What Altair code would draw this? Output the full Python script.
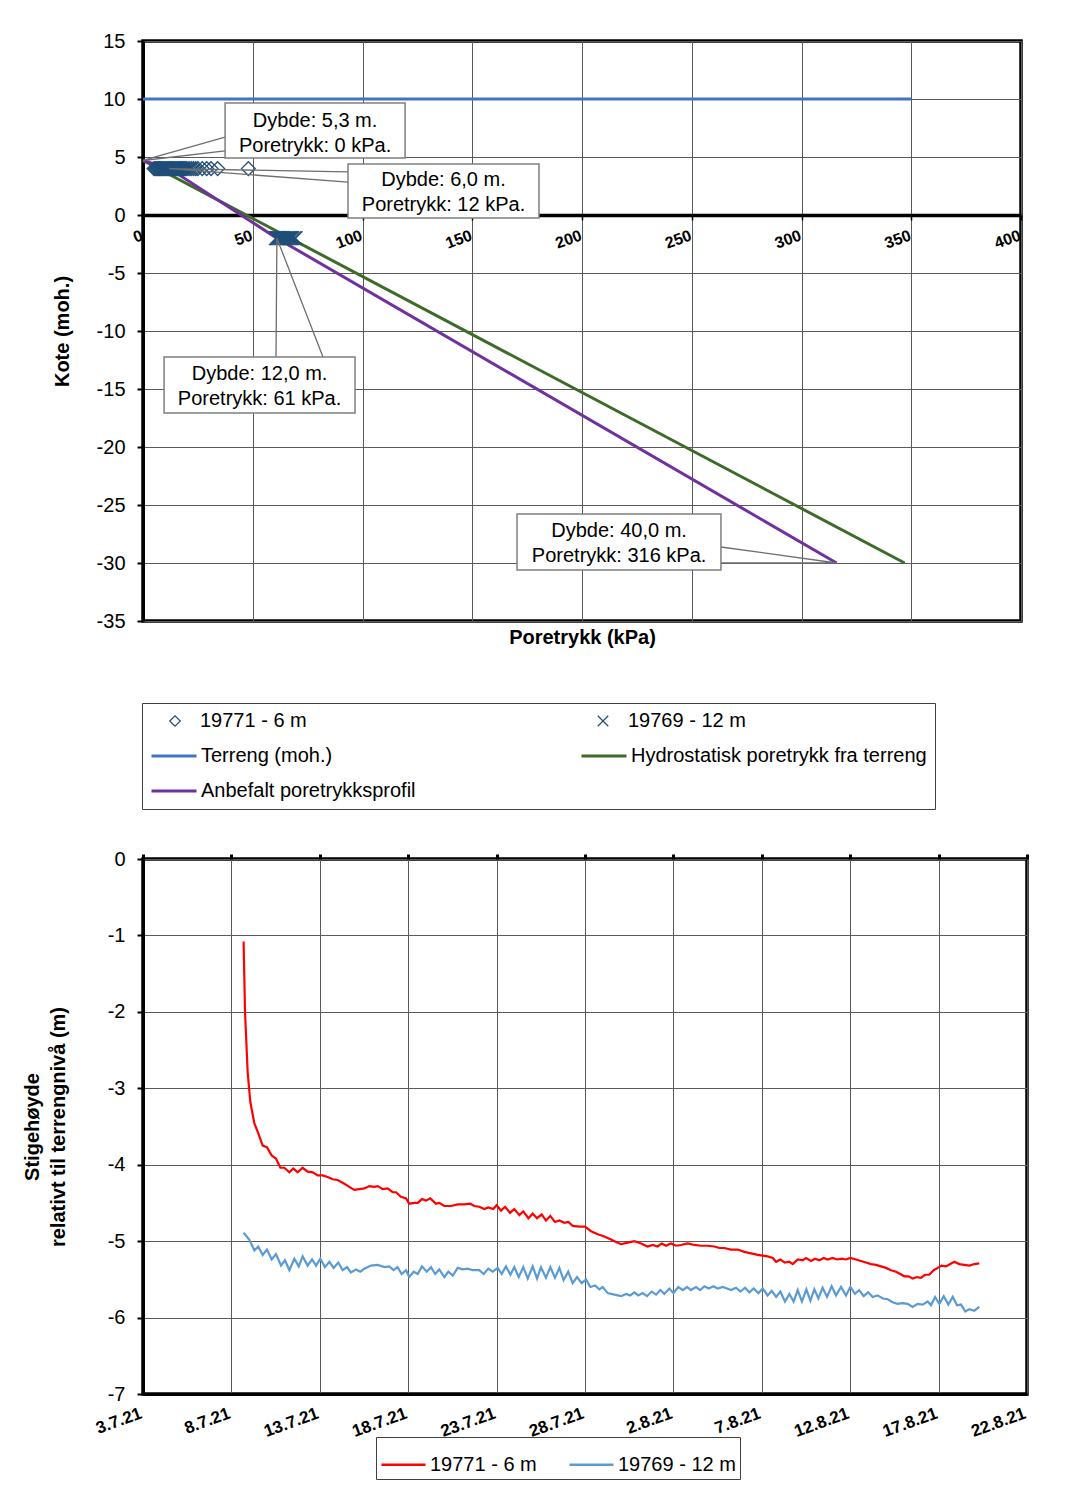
import altair as alt
import pandas as pd

FONT = "Liberation Sans"
GRID = "#5a5a5a"

# ---------------- top chart data ----------------
marker_series = ["19771 - 6 m", "19769 - 12 m"]
marker_shapes = ["diamond", "M-1,-1L1,1M-1,1L1,-1"]
marker_color = "#1F4E79"
# legend grid is filled column by column: column 1 = Terreng, Anbefalt; column 2 = Hydrostatisk
line_series = ["Terreng (moh.)", "Anbefalt poretrykksprofil", "Hydrostatisk poretrykk fra terreng"]
line_colors = ["#4472C4", "#7030A0", "#3D6B2A"]

terrain_kpa = [0, 350]
terrain_kote = [10, 10]
hydro_kpa = [0, 347]
hydro_kote = [4.7, -30]
anbef_kpa = [0, 12, 61, 316]
anbef_kote = [4.7, 4.0, -2.0, -30.0]

p6_kote = 4.0
p6_kpa = [48, 34, 31, 29, 27, 25, 24, 23, 22, 21, 20, 19.5, 19, 18.5, 18, 17.5, 17,
          16.5, 16, 15.5, 15, 14.5, 14, 13.5, 13, 12.5, 12, 11.5, 11, 10.5, 10, 9.5,
          9, 8.5, 8, 7.5, 7, 6.5, 6, 5.5, 5]
p12_kote = -2.0
p12_kpa = [60.5, 61, 61.5, 62, 62.5, 63, 63.5, 64, 64.5, 65, 65.5, 66, 66.5, 67,
           67.5, 68, 69, 69.5]

# annotation boxes (data units); text anchored at its first line
ann_text = ["Dybde: 5,3 m.\nPoretrykk: 0 kPa.",
            "Dybde: 6,0 m.\nPoretrykk: 12 kPa.",
            "Dybde: 12,0 m.\nPoretrykk: 61 kPa.",
            "Dybde: 40,0 m.\nPoretrykk: 316 kPa."]
ann_x1 = [37.4, 93.4, 9.6, 170.4]
ann_x2 = [119.4, 180.4, 96.6, 263.3]
ann_y1 = [9.66, 4.40, -12.24, -25.78]
ann_y2 = [4.91, -0.26, -17.07, -30.60]
ann_cx = [78.4, 136.9, 53.1, 216.9]
ann_cy = [8.10, 3.02, -13.71, -27.24]

# leader wedges: box edge -> target -> box edge
ldr_kpa = [[37.4, 0, 37.4], [93.4, 12, 93.4], [60.6, 61, 82.0], [263.3, 316, 263.3]]
ldr_kote = [[6.72, 4.7, 5.52], [3.71, 4.0, 2.84], [-12.24, -2.0, -12.24], [-28.62, -30.0, -30.0]]

# ---------------- bottom chart data ----------------
red_days = [5.69, 5.77, 5.92, 6.07, 6.30, 6.49, 6.77, 7.01, 7.28, 7.52, 7.77, 7.99, 8.28, 8.50,
            8.75, 9.03, 9.31, 9.60, 9.88, 10.16, 10.44, 10.73, 11.01, 11.39, 11.67, 11.95,
            12.24, 12.52, 12.80, 13.08, 13.27, 13.56, 13.84, 14.12, 14.31, 14.59, 14.88,
            15.06, 15.35, 15.54, 15.78, 16.01, 16.25, 16.57, 16.76, 17.04, 17.42, 17.80,
            18.17, 18.51, 18.74, 19.02, 19.31, 19.53, 19.81, 20.00, 20.25, 20.48, 20.76,
            21.00, 21.29, 21.51, 21.80, 22.04, 22.29, 22.55, 22.79, 23.04, 23.30, 23.55,
            23.83, 24.06, 24.30, 24.68, 25.00, 25.34, 25.72, 26.09, 26.47, 26.75, 27.04,
            27.41, 27.79, 28.17, 28.54, 28.83, 29.11, 29.34, 29.58, 29.86, 30.15, 30.43,
            30.81, 31.18, 31.56, 31.94, 32.32, 32.60, 32.88, 33.26, 33.64, 34.01, 34.39,
            34.77, 35.05, 35.33, 35.62, 35.81, 36.05, 36.31, 36.56, 36.75, 37.03, 37.31,
            37.50, 37.78, 38.01, 38.25, 38.50, 38.72, 39.01, 39.25, 39.52, 39.76, 40.01,
            40.33, 40.61, 40.89, 41.18, 41.46, 41.74, 42.02, 42.31, 42.59, 42.83, 43.06,
            43.31, 43.53, 43.78, 44.00, 44.23, 44.47, 44.72, 44.95, 45.17, 45.42, 45.66,
            45.89, 46.17, 46.45, 46.74, 47.02, 47.30]
red_vals = [-1.08, -2.00, -2.79, -3.18, -3.46, -3.57, -3.75, -3.77, -3.88, -3.92, -4.04, -4.04,
            -4.10, -4.05, -4.10, -4.04, -4.09, -4.10, -4.14, -4.14, -4.16, -4.19, -4.20, -4.25,
            -4.29, -4.33, -4.32, -4.31, -4.28, -4.29, -4.28, -4.32, -4.31, -4.36, -4.36, -4.42,
            -4.44, -4.51, -4.50, -4.50, -4.45, -4.47, -4.44, -4.51, -4.50, -4.54, -4.54, -4.52,
            -4.52, -4.51, -4.54, -4.55, -4.58, -4.56, -4.58, -4.53, -4.60, -4.55, -4.63, -4.58,
            -4.66, -4.61, -4.70, -4.64, -4.70, -4.65, -4.73, -4.67, -4.75, -4.73, -4.76, -4.75,
            -4.80, -4.81, -4.81, -4.87, -4.91, -4.94, -4.98, -5.01, -5.04, -5.02, -5.00, -5.03,
            -5.07, -5.05, -5.07, -5.03, -5.06, -5.03, -5.06, -5.05, -5.03, -5.05, -5.06, -5.06,
            -5.07, -5.09, -5.09, -5.11, -5.11, -5.14, -5.16, -5.18, -5.19, -5.20, -5.22, -5.27,
            -5.24, -5.28, -5.27, -5.30, -5.24, -5.25, -5.22, -5.26, -5.23, -5.25, -5.22, -5.24,
            -5.22, -5.24, -5.23, -5.24, -5.22, -5.24, -5.26, -5.28, -5.30, -5.31, -5.33, -5.35,
            -5.38, -5.40, -5.43, -5.46, -5.46, -5.49, -5.47, -5.48, -5.44, -5.44, -5.38, -5.35,
            -5.32, -5.33, -5.30, -5.27, -5.30, -5.31, -5.32, -5.30, -5.29]

blue_days = [5.69, 6.01, 6.30, 6.52, 6.77, 7.01, 7.28, 7.52, 7.81, 8.03, 8.28, 8.56, 8.81, 9.03,
             9.31, 9.56, 9.79, 10.03, 10.29, 10.54, 10.78, 11.05, 11.29, 11.54, 11.76, 12.05,
             12.29, 12.52, 12.90, 13.27, 13.65, 13.93, 14.17, 14.40, 14.63, 14.88, 15.06, 15.31,
             15.54, 15.78, 16.05, 16.29, 16.52, 16.76, 17.04, 17.27, 17.52, 17.80, 18.08, 18.37,
             18.65, 19.02, 19.27, 19.53, 19.78, 20.06, 20.29, 20.53, 20.78, 21.00, 21.25, 21.51,
             21.76, 22.04, 22.29, 22.51, 22.79, 23.04, 23.30, 23.55, 23.79, 24.05, 24.30, 24.55,
             24.81, 25.06, 25.30, 25.57, 25.81, 26.00, 26.28, 26.66, 27.04, 27.32, 27.56, 27.79,
             28.01, 28.26, 28.51, 28.77, 29.02, 29.26, 29.49, 29.77, 30.00, 30.28, 30.53, 30.77,
             30.99, 31.28, 31.52, 31.75, 32.00, 32.26, 32.50, 32.79, 33.03, 33.26, 33.54, 33.79,
             34.05, 34.30, 34.54, 34.81, 35.05, 35.33, 35.56, 35.81, 36.05, 36.31, 36.56, 36.80,
             37.03, 37.27, 37.52, 37.75, 37.97, 38.20, 38.44, 38.69, 38.95, 39.20, 39.48, 39.76,
             40.01, 40.27, 40.51, 40.76, 41.02, 41.27, 41.55, 41.84, 42.12, 42.40, 42.68, 42.97,
             43.25, 43.53, 43.81, 44.10, 44.38, 44.57, 44.80, 45.04, 45.29, 45.55, 45.80, 46.04,
             46.27, 46.51, 46.74, 47.02, 47.30]
blue_vals = [-4.89, -4.98, -5.12, -5.07, -5.18, -5.11, -5.24, -5.17, -5.32, -5.25, -5.38, -5.23,
             -5.33, -5.20, -5.32, -5.24, -5.32, -5.23, -5.34, -5.27, -5.35, -5.28, -5.38, -5.34,
             -5.41, -5.37, -5.40, -5.36, -5.32, -5.31, -5.34, -5.33, -5.38, -5.34, -5.43, -5.38,
             -5.47, -5.40, -5.43, -5.33, -5.40, -5.34, -5.43, -5.37, -5.47, -5.40, -5.45, -5.35,
             -5.37, -5.36, -5.38, -5.38, -5.43, -5.36, -5.40, -5.35, -5.43, -5.33, -5.44, -5.34,
             -5.47, -5.34, -5.49, -5.33, -5.49, -5.34, -5.48, -5.34, -5.48, -5.35, -5.51, -5.40,
             -5.55, -5.47, -5.55, -5.50, -5.60, -5.58, -5.63, -5.60, -5.68, -5.70, -5.72, -5.69,
             -5.71, -5.67, -5.71, -5.68, -5.72, -5.66, -5.70, -5.64, -5.69, -5.62, -5.68, -5.60,
             -5.64, -5.60, -5.64, -5.60, -5.64, -5.59, -5.62, -5.59, -5.62, -5.60, -5.62, -5.64,
             -5.61, -5.66, -5.61, -5.67, -5.62, -5.68, -5.62, -5.71, -5.65, -5.73, -5.66, -5.79,
             -5.69, -5.79, -5.64, -5.79, -5.63, -5.78, -5.63, -5.75, -5.61, -5.73, -5.59, -5.71,
             -5.60, -5.71, -5.60, -5.69, -5.64, -5.72, -5.67, -5.73, -5.71, -5.75, -5.76, -5.80,
             -5.82, -5.81, -5.82, -5.86, -5.82, -5.83, -5.79, -5.84, -5.73, -5.82, -5.72, -5.83,
             -5.73, -5.84, -5.83, -5.92, -5.89, -5.91, -5.86]

series_bot = ["19771 - 6 m", "19769 - 12 m"]
colors_bot = ["#FF0000", "#5B9BD5"]

# ---------------- tables ----------------
line_rows = []
for name, xs, ys in [(line_series[0], terrain_kpa, terrain_kote),
                     (line_series[2], hydro_kpa, hydro_kote),
                     (line_series[1], anbef_kpa, anbef_kote)]:
    for i, (a, b) in enumerate(zip(xs, ys)):
        line_rows.append({"serie": name, "kpa": a, "kote": b, "ord": i})
lines_df = pd.DataFrame(line_rows)

pts_df = pd.DataFrame(
    [{"maaler": marker_series[0], "kpa": v, "kote": p6_kote} for v in p6_kpa] +
    [{"maaler": marker_series[1], "kpa": v, "kote": p12_kote} for v in p12_kpa])

ann_df = pd.DataFrame({"txt": ann_text, "kpa": ann_cx, "kote": ann_cy,
                       "x1": ann_x1, "x2": ann_x2, "y1": ann_y1, "y2": ann_y2})
ldr_rows = []
for g, (xs, ys) in enumerate(zip(ldr_kpa, ldr_kote)):
    for i, (a, b) in enumerate(zip(xs, ys)):
        ldr_rows.append({"grp": g, "kpa": a, "kote": b, "ord": i})
ldr_df = pd.DataFrame(ldr_rows)

bot_df = pd.concat([
    pd.DataFrame({"serie": series_bot[0], "day": red_days, "val": red_vals}),
    pd.DataFrame({"serie": series_bot[1], "day": blue_days, "val": blue_vals})])

# ---------------- top chart ----------------
x_axis_top = alt.Axis(values=list(range(0, 401, 50)), offset=-406, labelAngle=-20,
                      labelAlign="right", labelBaseline="top", labelOffset=-4,
                      labelFontSize=16, labelFontWeight="bold", labelPadding=7,
                      labelFlush=False, labelOverlap=False,
                      tickSize=5, tickWidth=1.5, tickColor="black",
                      domainColor="black", domainWidth=3.5,
                      grid=True, gridColor=GRID, gridWidth=1,
                      title="Poretrykk (kPa)", titleFontSize=20, titleFontWeight="bold",
                      titleY=412)
y_axis_top = alt.Axis(values=list(range(-35, 16, 5)), labelExpr="'' + datum.value",
                      labelFontSize=20, labelPadding=12, tickSize=6, tickWidth=2,
                      tickColor="black", domainColor="black", domainWidth=3,
                      grid=True, gridColor=GRID, gridWidth=1,
                      title="Kote (moh.)", titleFontSize=20, titleFontWeight="bold",
                      titlePadding=24)


def xt(field="kpa"):
    return alt.X(field + ":Q", scale=alt.Scale(domain=[0, 400], nice=False, zero=False), axis=x_axis_top)


def yt(field="kote"):
    return alt.Y(field + ":Q", scale=alt.Scale(domain=[-35, 15], nice=False, zero=False), axis=y_axis_top)


marker_legend = alt.Legend(
    title=None, orient="none", legendX=22, legendY=670, direction="horizontal",
    symbolSize=110, symbolStrokeWidth=1.2, symbolStrokeColor=marker_color,
    symbolFillColor="transparent", labelFontSize=20, labelFont=FONT,
    labelOffset=15, columnPadding=286, padding=0, labelLimit=300, zindex=2)

line_legend = alt.Legend(
    title=" ", titleFontSize=20, titlePadding=1, orient="none", legendX=-1, legendY=662,
    columns=2, symbolType="stroke", symbolSize=2025, symbolStrokeWidth=3,
    labelFontSize=20, labelFont=FONT, rowPadding=1, columnPadding=159, labelOffset=3,
    padding=8, strokeColor="#404040", gridAlign="each", labelLimit=500, zindex=1)

lines_layer = alt.Chart(lines_df).mark_line(strokeWidth=3).encode(
    x=xt(), y=yt(),
    color=alt.Color("serie:N", scale=alt.Scale(domain=line_series, range=line_colors), legend=line_legend),
    order="ord:Q")
pts_layer = alt.Chart(pts_df).mark_point(filled=False, opacity=1, color=marker_color,
                                         size=190, strokeWidth=1.3).encode(
    x=xt(), y=yt(),
    shape=alt.Shape("maaler:N", scale=alt.Scale(domain=marker_series, range=marker_shapes),
                    legend=marker_legend))
ldr_layer = alt.Chart(ldr_df).mark_line(color="#6e6e6e", strokeWidth=1.3).encode(
    x=xt(), y=yt(), detail="grp:N", order="ord:Q")
box_layer = alt.Chart(ann_df).mark_rect(fill="white", stroke="#7f7f7f", strokeWidth=1.5).encode(
    x=xt("x1"), x2="x2:Q", y=yt("y1"), y2="y2:Q")
txt_layer = alt.Chart(ann_df).mark_text(font=FONT, fontSize=20, lineBreak="\n", lineHeight=25,
                                        align="center", baseline="middle", color="black").encode(
    x=xt(), y=yt(), text="txt:N")

top = alt.layer(lines_layer, pts_layer, ldr_layer, box_layer, txt_layer).properties(
    width=878, height=580)

# ---------------- bottom chart ----------------
bot_legend = alt.Legend(
    title=None, orient="none", legendX=233, legendY=578, direction="horizontal",
    symbolType="stroke", symbolSize=1936, symbolStrokeWidth=2.5, labelFontSize=20,
    labelFont=FONT, columnPadding=27, labelOffset=3, padding=4,
    strokeColor="#404040", fillColor="white", labelLimit=300)

day_scale = alt.Scale(domain=[0, 50], nice=False, zero=False)
val_scale = alt.Scale(domain=[-7, 0], nice=False, zero=False)
day_values = list(range(0, 51, 5))
y_axis_bot = alt.Axis(values=list(range(-7, 1)), labelExpr="'' + datum.value",
                      labelFontSize=20, labelPadding=12, tickSize=6, tickWidth=2,
                      tickColor="black", domainColor="black", domainWidth=3,
                      grid=True, gridColor=GRID, gridWidth=1,
                      title=["Stigehøyde", "relativt til terrengnivå (m)"],
                      titleFontSize=20, titleFontWeight="bold", titlePadding=39,
                      titleLineHeight=26)

bot_lines = alt.Chart(bot_df).mark_line(strokeWidth=2.2).encode(
    x=alt.X("day:Q", scale=day_scale,
            axis=alt.Axis(values=day_values,
                          labelExpr="timeFormat(datetime(2021, 6, 3 + datum.value), '%-d.%-m.%y')",
                          labelAngle=-20, labelAlign="right", labelBaseline="top",
                          labelOffset=-5, labelFontSize=17, labelFontWeight="bold",
                          labelPadding=11, labelFlush=False, labelOverlap=False,
                          ticks=False, domainColor="black", domainWidth=3,
                          grid=True, gridColor=GRID, gridWidth=1, title=None)),
    y=alt.Y("val:Q", scale=val_scale, axis=y_axis_bot),
    color=alt.Color("serie:N", scale=alt.Scale(domain=series_bot, range=colors_bot), legend=bot_legend),
    order="day:Q",
)
bot_ticks = alt.Chart(bot_df).mark_point(opacity=0).encode(
    x=alt.X("day:Q", scale=day_scale,
            axis=alt.Axis(orient="top", values=day_values, labels=False, domain=False,
                          grid=False, ticks=True, tickSize=5, tickWidth=3,
                          tickColor="black", title=None)),
    y=alt.Y("val:Q", scale=val_scale, axis=y_axis_bot),
)
bottom = alt.layer(bot_lines, bot_ticks).resolve_axis(x="independent").properties(
    width=884, height=535)

chart = alt.vconcat(top, bottom, spacing=35).resolve_scale(
    x="independent", y="independent", color="independent", shape="independent"
).properties(
    padding={"left": 20, "top": 29, "right": 5, "bottom": 5},
    background="white",
).configure(font=FONT).configure_view(stroke="black", strokeWidth=3.5)

chart.save("out.html", embed_options={"renderer": "svg", "actions": False})
